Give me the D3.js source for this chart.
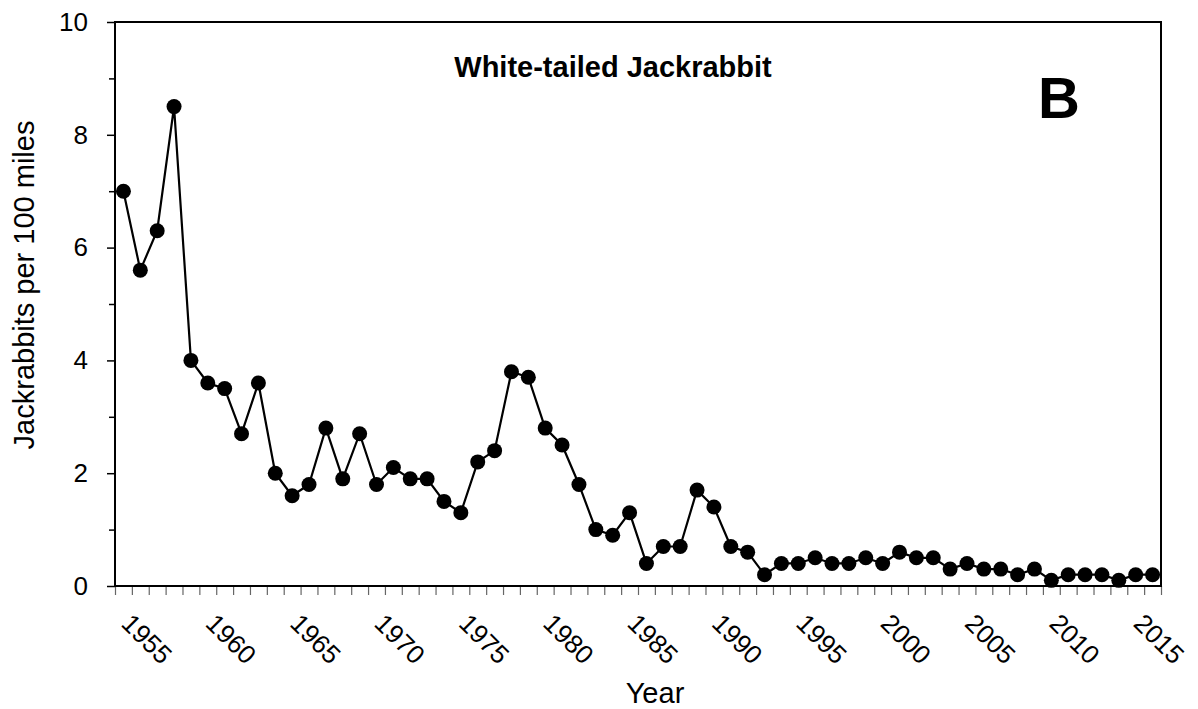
<!DOCTYPE html>
<html>
<head>
<meta charset="utf-8">
<script src="https://cdn.jsdelivr.net/npm/d3@7"></script>
<style>
  body { margin: 0; background: #fff; }
  text { font-family: Arial, "Liberation Sans", sans-serif; fill: #000; }
</style>
</head>
<body>
<div id="chart"></div>
<script>
var years = d3.range(1954, 2016);
var counts = [7.0, 5.6, 6.3, 8.5, 4.0, 3.6, 3.5, 2.7, 3.6, 2.0,
              1.6, 1.8, 2.8, 1.9, 2.7, 1.8, 2.1, 1.9, 1.9, 1.5,
              1.3, 2.2, 2.4, 3.8, 3.7, 2.8, 2.5, 1.8, 1.0, 0.9,
              1.3, 0.4, 0.7, 0.7, 1.7, 1.4, 0.7, 0.6, 0.2, 0.4,
              0.4, 0.5, 0.4, 0.4, 0.5, 0.4, 0.6, 0.5, 0.5, 0.3,
              0.4, 0.3, 0.3, 0.2, 0.3, 0.1, 0.2, 0.2, 0.2, 0.1,
              0.2, 0.2];
var yearLabels = [1955, 1960, 1965, 1970, 1975, 1980, 1985, 1990, 1995, 2000, 2005, 2010, 2015];
var yMajor = [0, 2, 4, 6, 8, 10];
var yMinor = [1, 3, 5, 7, 9];

function init() {
    var width = 1198;
    var height = 709;
    var left = 115, right = 1161, top = 22, bottom = 586;

    var svg = d3.select("#chart")
                .append("svg")
                .attr("width", width)
                .attr("height", height);

    // categories sit between the tick marks
    var xScale = d3.scaleLinear()
                   .domain([years[0] - 0.5, years[years.length - 1] + 0.5])
                   .range([left, right]);

    var yScale = d3.scaleLinear()
                   .domain([0, 10])
                   .range([bottom, top]);

    // x tick marks at category boundaries
    var xAxis = d3.axisBottom(xScale)
                  .tickValues(d3.range(years[0] - 0.5, years[years.length - 1] + 1, 1))
                  .tickFormat("")
                  .tickSizeOuter(0)
                  .tickSizeInner(9);

    var gx = svg.append("g")
        .attr("transform", "translate(0," + bottom + ")")
        .call(xAxis);
    gx.select(".domain").remove();
    gx.selectAll(".tick line").attr("stroke", "#666").attr("stroke-width", 1.2);

    // x labels, rotated
    svg.append("g").selectAll("text")
        .data(yearLabels)
        .enter()
        .append("text")
        .attr("transform", function(d) {
            return "translate(" + (xScale(d) + 6.5) + ",639) rotate(45)";
        })
        .attr("text-anchor", "middle")
        .attr("dominant-baseline", "central")
        .style("font-size", "26px")
        .text(function(d) { return d; });

    // y axis
    var yAxis = d3.axisLeft(yScale)
                  .tickValues(yMajor)
                  .tickSizeOuter(0)
                  .tickSizeInner(8)
                  .tickPadding(19);

    var gy = svg.append("g")
        .attr("transform", "translate(" + left + ",0)")
        .call(yAxis);
    gy.select(".domain").remove();
    gy.selectAll(".tick line").attr("stroke", "#000").attr("stroke-width", 1.5);
    gy.selectAll(".tick text")
        .attr("font-family", null)
        .attr("font-size", null)
        .style("font-size", "26px");

    var yMinorAxis = d3.axisLeft(yScale)
                       .tickValues(yMinor)
                       .tickFormat("")
                       .tickSizeOuter(0)
                       .tickSizeInner(6);
    var gym = svg.append("g")
        .attr("transform", "translate(" + left + ",0)")
        .call(yMinorAxis);
    gym.select(".domain").remove();
    gym.selectAll(".tick line").attr("stroke", "#000").attr("stroke-width", 1.5);

    // plot frame
    svg.append("rect")
        .attr("x", left)
        .attr("y", top)
        .attr("width", right - left)
        .attr("height", bottom - top)
        .attr("fill", "none")
        .attr("stroke", "#000")
        .attr("stroke-width", 2);

    var points = years.map(function(y, i) { return { year: y, value: counts[i] }; });

    var line = d3.line()
                 .x(function(d) { return xScale(d.year); })
                 .y(function(d) { return yScale(d.value); });

    svg.append("path")
        .datum(points)
        .attr("d", line)
        .attr("fill", "none")
        .attr("stroke", "#000")
        .attr("stroke-width", 2.2);

    svg.selectAll("circle")
        .data(points)
        .enter()
        .append("circle")
        .attr("cx", function(d) { return xScale(d.year); })
        .attr("cy", function(d) { return yScale(d.value); })
        .attr("r", 7.5)
        .attr("fill", "#000");

    // titles
    svg.append("text")
        .attr("x", 613)
        .attr("y", 77)
        .attr("text-anchor", "middle")
        .style("font-size", "29px")
        .style("font-weight", "bold")
        .text("White-tailed Jackrabbit");

    svg.append("text")
        .attr("x", 1059)
        .attr("y", 118)
        .attr("text-anchor", "middle")
        .style("font-size", "58px")
        .style("font-weight", "bold")
        .text("B");

    svg.append("text")
        .attr("x", 655)
        .attr("y", 703)
        .attr("text-anchor", "middle")
        .style("font-size", "29px")
        .text("Year");

    svg.append("text")
        .attr("transform", "translate(34,285) rotate(-90)")
        .attr("text-anchor", "middle")
        .style("font-size", "29px")
        .text("Jackrabbits per 100 miles");
}

window.onload = init;
</script>
</body>
</html>
